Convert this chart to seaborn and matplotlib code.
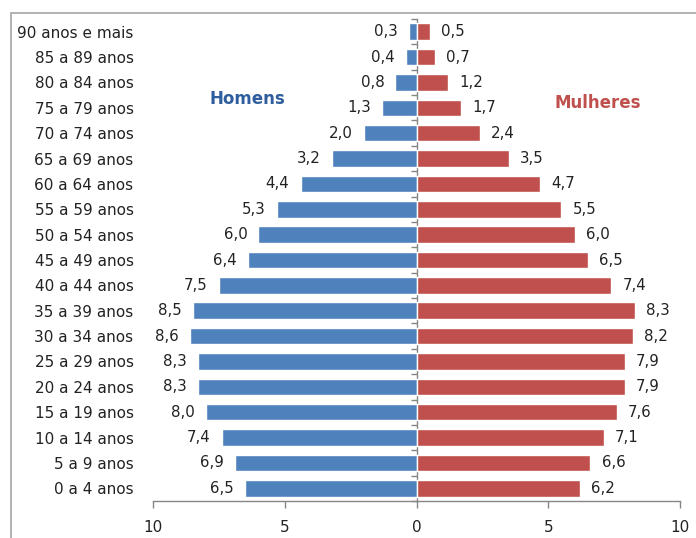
import matplotlib
matplotlib.use("Agg")
import matplotlib.pyplot as plt
from matplotlib.patches import Rectangle
from matplotlib.ticker import FuncFormatter
import numpy as np
import pandas as pd
import seaborn as sns

# Age groups, oldest first (top of the pyramid)
age_groups = [
    "90 anos e mais", "85 a 89 anos", "80 a 84 anos", "75 a 79 anos",
    "70 a 74 anos", "65 a 69 anos", "60 a 64 anos", "55 a 59 anos",
    "50 a 54 anos", "45 a 49 anos", "40 a 44 anos", "35 a 39 anos",
    "30 a 34 anos", "25 a 29 anos", "20 a 24 anos", "15 a 19 anos",
    "10 a 14 anos", "5 a 9 anos", "0 a 4 anos",
]
homens = [0.3, 0.4, 0.8, 1.3, 2.0, 3.2, 4.4, 5.3, 6.0, 6.4,
          7.5, 8.5, 8.6, 8.3, 8.3, 8.0, 7.4, 6.9, 6.5]
mulheres = [0.5, 0.7, 1.2, 1.7, 2.4, 3.5, 4.7, 5.5, 6.0, 6.5,
            7.4, 8.3, 8.2, 7.9, 7.9, 7.6, 7.1, 6.6, 6.2]
x_ticks = [-10, -5, 0, 5, 10]

BLUE = "#4F81BD"
RED = "#C0504D"
GRAY = "#868686"
TEXT = "#222222"

sns.set_theme(style="white")
plt.rcParams["font.family"] = ["DejaVu Sans"]

df = pd.DataFrame({
    "faixa": age_groups,
    "homens": -np.array(homens),
    "mulheres": np.array(mulheres),
})

fig = plt.figure(figsize=(6.96, 5.38), dpi=100)
ax = fig.add_axes([153 / 696, 1 - 501 / 538, (680 - 153) / 696, (501 - 19) / 538])

sns.barplot(data=df, y="faixa", x="homens", color=BLUE, width=0.65,
            saturation=1, orient="h", ax=ax)
sns.barplot(data=df, y="faixa", x="mulheres", color=RED, width=0.65,
            saturation=1, orient="h", ax=ax)

def fmt(v):
    return f"{v:.1f}".replace(".", ",")

ax.bar_label(ax.containers[0], labels=[fmt(v) for v in homens],
             padding=8, fontsize=10.8, color=TEXT)
ax.bar_label(ax.containers[1], labels=[fmt(v) for v in mulheres],
             padding=8, fontsize=10.8, color=TEXT)

ax.set_xlim(-10, 10)
ax.set_ylim(len(age_groups) - 0.5, -0.5)
ax.set_xticks(x_ticks)
ax.xaxis.set_major_formatter(FuncFormatter(lambda v, _: f"{abs(v):g}"))
ax.set_xlabel("")
ax.set_ylabel("")

for side in ("top", "right", "left"):
    ax.spines[side].set_visible(False)
ax.spines["bottom"].set_color(GRAY)
ax.spines["bottom"].set_linewidth(1.0)

ax.tick_params(axis="x", bottom=True, direction="out", length=5,
               color=GRAY, width=1.0, pad=9, labelsize=11, labelcolor=TEXT)
ax.tick_params(axis="y", left=False, length=0, pad=14, labelsize=11,
               labelcolor=TEXT)

# Vertical category axis at zero with ticks between groups
zero_axis = ax.secondary_yaxis(0.5)
zero_axis.set_yticks(np.arange(-0.5, len(age_groups), 1.0))
zero_axis.set_yticklabels([])
zero_axis.yaxis.set_ticks_position("left")
zero_axis.tick_params(axis="y", which="both", left=True, right=False,
                      direction="out", length=4, color=GRAY, width=1.0)
for side in ("left", "right"):
    zero_axis.spines[side].set_color(GRAY)
    zero_axis.spines[side].set_linewidth(1.0)

ax.text(-6.4, len(age_groups) - 1 - 15.35, "Homens", color="#2E5E9E",
        fontsize=12, fontweight="bold", ha="center", va="center")
ax.text(6.87, len(age_groups) - 1 - 15.2, "Mulheres", color=RED,
        fontsize=12, fontweight="bold", ha="center", va="center")

# Chart area frame (top and left edges visible)
fig.add_artist(Rectangle((11 / 696, -0.1), 1.2, 1 - 13 / 538 + 0.1,
                         transform=fig.transFigure, fill=False,
                         edgecolor="#A6A6A6", linewidth=1.2))

fig.savefig("out.png", dpi=100)
